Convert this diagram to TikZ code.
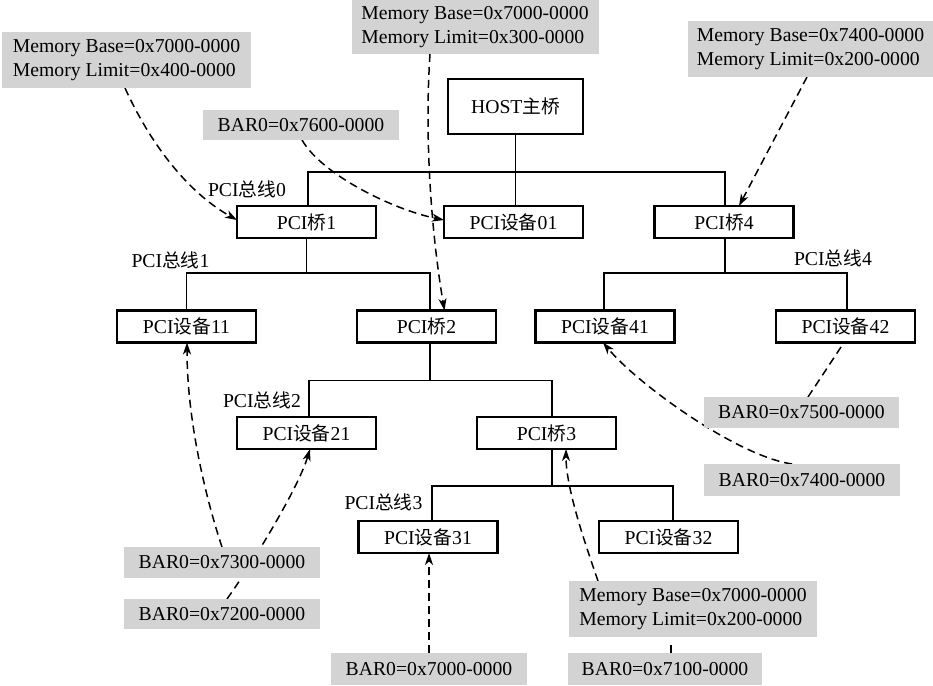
\documentclass[tikz,border=0pt]{standalone}
\usepackage{fontspec}
\setmainfont{Liberation Serif}
\newfontfamily\cjk[Scale=0.95]{Noto Sans CJK SC}
\usetikzlibrary{arrows.meta,calc}
\pgfdeclarelayer{links}
\pgfsetlayers{links,main}
\newcommand\zh[1]{{\cjk #1}}
\definecolor{noteGray}{RGB}{211,211,211}

\begin{document}
\begin{tikzpicture}[x=1pt,y=-1pt,
  every node/.style={font=\fontsize{19.7}{24}\selectfont, inner sep=0pt, outer sep=0pt},
  unit/.style={draw, line width=2.2pt, fill=white, minimum width=139pt, minimum height=32pt},
  note/.style={fill=noteGray, align=left, minimum width=194pt, minimum height=30pt},
  memnote/.style={note, minimum width=247pt, minimum height=56pt},
  bus/.style={line width=1.4pt},
  link/.style={line width=1.5pt, dash pattern=on 8pt off 5pt},
  tip/.style={-{Stealth[length=12pt,width=8pt,inset=3.5pt]}}]

\useasboundingbox (0,0) rectangle (933,685);

% devices and bridges
\node[unit, minimum width=135pt, minimum height=55pt] (host) at (515.5,106.5) {HOST\zh{主桥}};
\node[unit] (br1)   at (306.5,222) {PCI\zh{桥}1};
\node[unit] (dev01) at (513.5,222) {PCI\zh{设备}01};
\node[unit] (br4)   at (724,222)   {PCI\zh{桥}4};
\node[unit] (dev11) at (186.5,326.5) {PCI\zh{设备}11};
\node[unit] (br2)   at (426.5,326.5) {PCI\zh{桥}2};
\node[unit] (dev41) at (605,326.5)   {PCI\zh{设备}41};
\node[unit] (dev42) at (845.5,326.5) {PCI\zh{设备}42};
\node[unit] (dev21) at (306.5,433) {PCI\zh{设备}21};
\node[unit] (br3)   at (546.5,433) {PCI\zh{桥}3};
\node[unit] (dev31) at (428,537)   {PCI\zh{设备}31};
\node[unit] (dev32) at (668.5,537) {PCI\zh{设备}32};

% bus labels
\node (l0) at (247,189)   {PCI\zh{总线}0};
\node (l1) at (170.5,260) {PCI\zh{总线}1};
\node (l2) at (262,400)   {PCI\zh{总线}2};
\node (l3) at (383.5,502) {PCI\zh{总线}3};
\node (l4) at (833,258)   {PCI\zh{总线}4};

% register notes
\node[memnote, minimum width=249pt] (g1) at (126.5,60) {Memory Base=0x7000-0000\\Memory Limit=0x400-0000};
\node[note, minimum width=196pt] (g2) at (301,125) {BAR0=0x7600-0000};
\node[memnote, minimum height=54pt] (g3) at (475,27) {Memory Base=0x7000-0000\\Memory Limit=0x300-0000};
\node[memnote, minimum width=245pt] (g4) at (810.5,49) {Memory Base=0x7400-0000\\Memory Limit=0x200-0000};
\node[note, minimum width=195pt, minimum height=31pt] (g5) at (801.5,412.5) {BAR0=0x7500-0000};
\node[note, minimum width=196pt, minimum height=32pt] (g6) at (802,480) {BAR0=0x7400-0000};
\node[note, minimum width=196pt, minimum height=31pt] (g7) at (222,562.5) {BAR0=0x7300-0000};
\node[note, minimum width=196pt] (g8) at (222,614) {BAR0=0x7200-0000};
\node[note, minimum width=196pt, minimum height=32pt] (g9) at (429,669) {BAR0=0x7000-0000};
\node[memnote, minimum width=248pt] (g10) at (693,609) {Memory Base=0x7000-0000\\Memory Limit=0x200-0000};
\node[note, minimum width=194pt, minimum height=32pt] (g11) at (665,669) {BAR0=0x7100-0000};

% bus 0
\draw[bus] (host.south) -- (host.south |- dev01.north);
\draw[bus] ($(br1.north)+(1.5,0)$) -- ++(0,-34) -| ($(br4.north)+(1,0)$);
% bus 1
\draw[bus] (br1.south) -- ++(0,35);
\draw[bus] (dev11.north) |- ($(br1.south)+(0,35)$) -| ($(br2.north)+(3.5,0)$);
% bus 2
\draw[bus] ($(br2.south)+(3.5,0)$) -- ++(0,38);
\draw[bus] ($(dev21.north)+(2.5,0)$) |- ($(br2.south)+(3.5,38)$) -| ($(br3.north)+(5.5,0)$);
% bus 3
\draw[bus] ($(br3.south)+(5.5,0)$) -- ++(0,37);
\draw[bus] ($(dev31.north)+(4,0)$) |- ($(br3.south)+(5.5,37)$) -| ($(dev32.north)+(4.5,0)$);
% bus 4
\draw[bus] ($(br4.south)+(1,0)$) -- ++(0,35);
\draw[bus] ($(dev41.north)+(-1,0)$) |- ($(br4.south)+(1,35)$) -| ($(dev42.north)+(1.5,0)$);

% register assignments
\begin{pgfonlayer}{links}
\draw[link,tip] ($(g1.south)+(-1.5,0)$) .. controls +(25,55) and +(-50,-28) .. ($(br1.west)+(0,-2)$);
\draw[link,tip] ($(g2.south)+(1,0)$) .. controls +(20,35) and +(-50,-10) .. ($(dev01.west)+(0,-2)$);
\draw[link,tip] ($(g3.south)+(-45,0)$) .. controls +(-6,90) and +(-12,-70) .. ($(br2.north)+(18,0)$);
\draw[link,tip] ($(g4.south)+(-3.5,0)$) -- ($(br4.north)+(15,0)$);
\draw[link] ($(g5.north)+(6.5,0)$) -- ($(dev42.south)+(-1.5,0)$);
\draw[link,tip] ($(g6.north)+(-10,0)$) .. controls +(-55,-8) and +(35,42) .. ($(dev41.south)+(-2,0)$);
\draw[link,tip] (g7.north) .. controls +(-15,-45) and +(0,80) .. ($(dev11.south)+(0.5,0)$);
\draw[link,tip] ($(g8.north)+(5,0)$) .. controls +(25,-35) and +(-12,40) .. ($(dev21.south)+(3.5,0)$);
\draw[link,tip] (g9.north) -- (g9.north |- dev31.south);
\draw[link,tip] ($(g10.north)+(-95,0)$) .. controls +(-12,-35) and +(0,40) .. ($(br3.south)+(19.5,0)$);
\draw[link,tip] ($(g11.north)+(6,0)$) -- ($(g11.north)+(6,0)$ |- dev32.south);
\end{pgfonlayer}
\end{tikzpicture}
\end{document}
